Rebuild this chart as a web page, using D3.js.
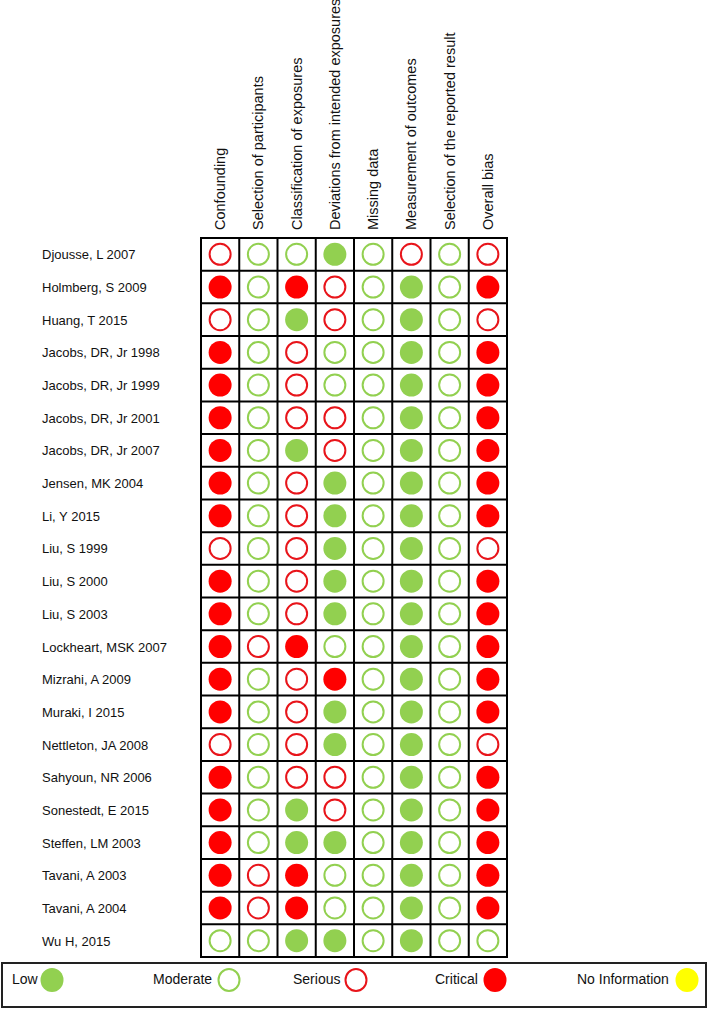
<!DOCTYPE html>
<html lang="en">
    <head>
        <title>Risk of bias</title>
        <script src="https://d3js.org/d3.v7.min.js" charset="utf-8"></script>
    </head>
    <style>
        body { margin: 0; background: #fff; }
        text { font-family: "Liberation Sans", Arial, sans-serif; fill: #111; }
    </style>
    <body>
        <script>
            var domains = ["Confounding", "Selection of participants", "Classification  of exposures",
                "Deviations from intended exposures", "Missing data", "Measurement of outcomes",
                "Selection of the reported result", "Overall bias"];

            var studies = ["Djousse, L 2007", "Holmberg, S 2009", "Huang, T 2015", "Jacobs, DR, Jr 1998",
                "Jacobs, DR, Jr 1999", "Jacobs, DR, Jr 2001", "Jacobs, DR, Jr 2007", "Jensen, MK 2004",
                "Li, Y 2015", "Liu, S 1999", "Liu, S 2000", "Liu, S 2003", "Lockheart, MSK 2007",
                "Mizrahi, A 2009", "Muraki, I 2015", "Nettleton, JA 2008", "Sahyoun, NR 2006",
                "Sonestedt, E 2015", "Steffen, LM 2003", "Tavani, A 2003", "Tavani, A 2004", "Wu H, 2015"];

            // L = low, M = moderate, S = serious, C = critical
            var ratings = [
                "SMMLMSMS", "CMCSMLMC", "SMLSMLMS", "CMSMMLMC",
                "CMSMMLMC", "CMSSMLMC", "CMLSMLMC", "CMSLMLMC",
                "CMSLMLMC", "SMSLMLMS", "CMSLMLMC", "CMSLMLMC", "CSCMMLMC",
                "CMSCMLMC", "CMSLMLMC", "SMSLMLMS", "CMSSMLMC",
                "CMLSMLMC", "CMLLMLMC", "CSCMMLMC", "CSCMMLMC", "MMLLMLMM"];

            var levels = ["L", "M", "S", "C", "N"];
            var levelNames = ["Low", "Moderate", "Serious", "Critical", "No Information"];
            var levelColor = {L: "#92d050", M: "#92d050", S: "#e8141a", C: "#ff0000", N: "#ffff00"};
            var levelFilled = {L: true, M: false, S: false, C: true, N: true};

            var width = 708, height = 1009;
            var svg = d3.select("body").append("svg")
                .attr("width", width)
                .attr("height", height);

            var x = d3.scaleBand().domain(d3.range(domains.length)).range([201, 507]);
            var y = d3.scaleBand().domain(d3.range(studies.length)).range([238, 957]);

            // column headers
            svg.append("g").selectAll("text")
                .data(domains)
              .enter().append("text")
                .attr("transform", function(d, i) {
                    return "translate(" + (x(i) + x.bandwidth() / 2 + 5) + ",230) rotate(-90)";
                })
                .style("font-size", "14.5px")
                .text(function(d) { return d; });

            // row labels
            svg.append("g").selectAll("text")
                .data(studies)
              .enter().append("text")
                .attr("x", 42)
                .attr("y", function(d, i) { return y(i) + y.bandwidth() / 2 + 5; })
                .style("font-size", "13px")
                .text(function(d) { return d; });

            // grid
            var grid = svg.append("g");
            grid.selectAll("line.v")
                .data(d3.range(domains.length + 1))
              .enter().append("line")
                .attr("x1", function(i) { return 201 + i * x.bandwidth(); })
                .attr("x2", function(i) { return 201 + i * x.bandwidth(); })
                .attr("y1", 238).attr("y2", 957)
                .attr("stroke", "#000").attr("stroke-width", 2);
            grid.selectAll("line.h")
                .data(d3.range(studies.length + 1))
              .enter().append("line")
                .attr("y1", function(i) { return 238 + i * y.bandwidth(); })
                .attr("y2", function(i) { return 238 + i * y.bandwidth(); })
                .attr("x1", 200).attr("x2", 508)
                .attr("stroke", "#000").attr("stroke-width", 2);

            // cells
            var cells = [];
            ratings.forEach(function(r, i) {
                r.split("").forEach(function(c, j) { cells.push({row: i, col: j, v: c}); });
            });

            svg.append("g").selectAll("circle")
                .data(cells)
              .enter().append("circle")
                .attr("cx", function(d) { return x(d.col) + x.bandwidth() / 2; })
                .attr("cy", function(d) { return y(d.row) + y.bandwidth() / 2; })
                .attr("r", function(d) { return levelFilled[d.v] ? 11.5 : 10.5; })
                .attr("fill", function(d) { return levelFilled[d.v] ? levelColor[d.v] : "#fff"; })
                .attr("stroke", function(d) { return levelFilled[d.v] ? "none" : levelColor[d.v]; })
                .attr("stroke-width", 2);

            // legend
            var legend = svg.append("g");
            legend.append("rect")
                .attr("x", 2).attr("y", 963)
                .attr("width", 704).attr("height", 44)
                .attr("fill", "none").attr("stroke", "#222").attr("stroke-width", 2);

            var legendText = [12, 153, 293, 435, 577];
            var legendDot = [52, 229, 356, 495, 687];

            var item = legend.selectAll("g.item")
                .data(levels)
              .enter().append("g");
            item.append("text")
                .attr("x", function(d, i) { return legendText[i]; })
                .attr("y", 984)
                .style("font-size", "14px")
                .text(function(d, i) { return levelNames[i]; });
            item.append("ellipse")
                .attr("cx", function(d, i) { return legendDot[i]; })
                .attr("cy", 980)
                .attr("rx", function(d) { return levelFilled[d] ? 11.5 : 10.5; })
                .attr("ry", function(d) { return levelFilled[d] ? 12 : 11; })
                .attr("fill", function(d) { return levelFilled[d] ? levelColor[d] : "#fff"; })
                .attr("stroke", function(d) { return levelFilled[d] ? "none" : levelColor[d]; })
                .attr("stroke-width", 2);
        </script>
    </body>
</html>
